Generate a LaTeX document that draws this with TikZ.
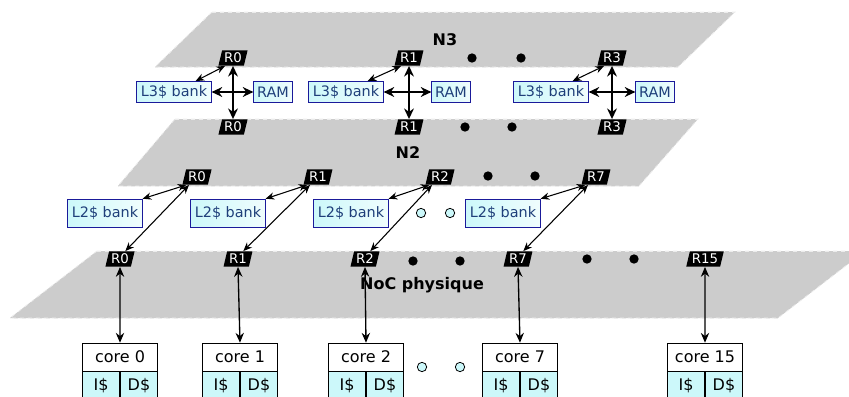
\documentclass[tikz,border=0pt]{standalone}
\usepackage{fontspec}
\setmainfont{DejaVu Sans}
\usetikzlibrary{positioning,arrows.meta,calc,shapes.geometric}
\definecolor{bkblue}{HTML}{1A1A9A}
\definecolor{bktext}{HTML}{1F3F7A}
\definecolor{bkcyan}{HTML}{CCF8FA}
\tikzset{
  plane/.style  ={fill=gray!40, draw=white!85!gray, dashed, line width=0.6pt},
  router/.style ={trapezium, trapezium left angle=72, trapezium right angle=108,
                  trapezium stretches body, fill=black, text=white, inner xsep=1.5pt,
                  inner ysep=0.5pt, minimum height=11.5pt, minimum width=20pt,
                  font=\fontsize{10}{10}\selectfont},
  bank/.style   ={draw=bkblue, text=bktext, left color=bkcyan, right color=bkcyan!30,
                  inner sep=0pt, minimum width=56pt, font=\fontsize{10.8}{12}\selectfont},
  ram/.style    ={bank, minimum width=29pt, minimum height=16pt},
  planelbl/.style={font=\fontsize{12}{14}\selectfont\bfseries},
  corehead/.style={draw, fill=white, minimum width=56pt, minimum height=21pt,
                  inner sep=0pt, font=\fontsize{12}{14}\selectfont},
  cachecell/.style={draw, fill=bkcyan, minimum width=28pt, minimum height=21pt,
                  inner sep=0pt, font=\fontsize{12}{14}\selectfont},
  bigdot/.style ={circle, fill=black, minimum size=7pt, inner sep=0pt},
  odot/.style   ={circle, draw, fill=bkcyan, minimum size=7pt, inner sep=0pt, line width=0.6pt},
  link/.style   ={{Stealth[length=2.3mm,width=1.9mm]}-{Stealth[length=2.3mm,width=1.9mm]}, line width=0.8pt},
  vlink/.style  ={{Stealth[length=2.6mm,width=2.2mm]}-{Stealth[length=2.6mm,width=2.2mm]}, line width=1pt},
  xlink/.style  ={{Stealth[length=2.8mm,width=2.6mm]}-{Stealth[length=2.8mm,width=2.6mm]}, line width=1.3pt},
}

\begin{document}
\begin{tikzpicture}[x=0.75pt,y=-0.75pt]
  \useasboundingbox (0,0) rectangle (849,396);
  \clip (0,0) rectangle (849,396);
  % the three network layers
  \fill[plane] (212,12) -- (735,12) -- (678,67) -- (155,67) -- cycle;
  \draw[plane,fill=none] (212,12) -- (735,12) (678,67) -- (155,67);
  \fill[plane] (175,119) -- (698,119) -- (639,186) -- (118,186) -- cycle;
  \draw[plane,fill=none] (175,119) -- (698,119) (639,186) -- (118,186);
  \fill[plane] (97,251) -- (865,251) -- (778,318) -- (10,318) -- cycle;
  \draw[plane,fill=none] (97,251) -- (865,251) (778,318) -- (10,318);
  \node[planelbl] (n3)  at (445,40)  {N3};
  \node[planelbl] (n2)  at (408,153) {N2};
  \node[planelbl] (noc) at (422,285) {NoC physique};

  % N3: L3 banks and RAM
  \foreach \n/\x/\b/\r in {0/233/174/273,1/409/346/451,3/612/551/655}{
    \node[router] (t\n) at (\x,58)  {R\n};
    \node[router] (b\n) at (\x,127) {R\n};
    \node[bank,minimum height=16pt] (lb\n) at (\b,92) {L3\$ bank};
    \node[ram] (ram\n) at (\r,92) {RAM};
    \draw[xlink] (t\n.south) -- (b\n.north);
    \draw[xlink] (lb\n.east) -- (ram\n.west);
    \draw[link] ([xshift=-12pt]lb\n.north east) -- (t\n.south west);
  }
  \foreach \d in {(472,58),(521,58),(465,127),(512,127)} \node[bigdot] at \d {};

  % N2: L2 banks
  \foreach \n/\x/\b in {0/197/105,1/318/228,2/440/351,7/596/503}{
    \node[router] (m\n) at (\x,177) {R\n};
    \node[bank,minimum height=21pt] (lt\n) at (\b,213) {L2\$ bank};
    \draw[link] (lt\n.north east) -- ([xshift=-2pt]m\n.south west);
  }
  \foreach \d in {(488,176),(535,176)} \node[bigdot] at \d {};
  \foreach \d in {(421,213),(450,213)} \node[odot] at \d {};

  % NoC physique and cores
  \foreach \n/\x/\c in {0/120/120,1/238/240,2/365/366,7/518/520,15/705/705}{
    \node[router] (p\n) at (\x,259) {R\n};
    \node[corehead] (core\n) at (\c,357) {core \n};
    \node[cachecell,anchor=north east] (ic\n) at (core\n.south) {I\$};
    \node[cachecell,anchor=north west] (dc\n) at (core\n.south) {D\$};
    \draw[vlink] (core\n.north) -- (p\n.south);
  }
  \foreach \n in {0,1,2,7}
    \draw[link] ([xshift=4pt]p\n.north) -- ([xshift=-6pt]m\n.south);
  \foreach \d in {(413,261),(460,261),(587,259),(634,259)} \node[bigdot] at \d {};
  \foreach \d in {(422,367),(460,367)} \node[odot] at \d {};
\end{tikzpicture}
\end{document}
